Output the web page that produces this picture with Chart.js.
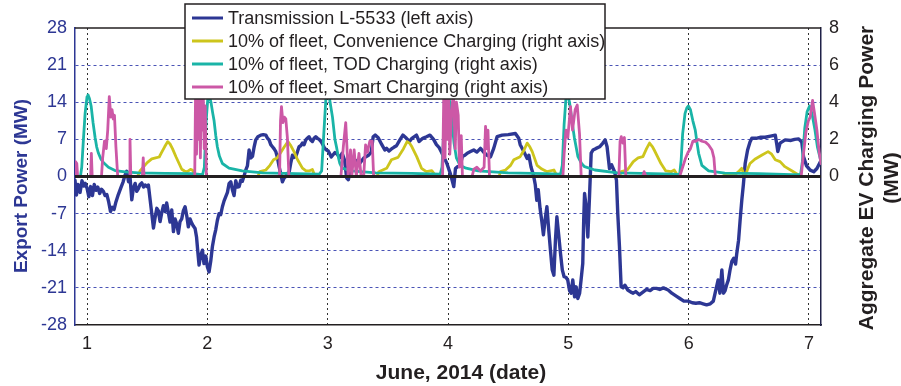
<!DOCTYPE html>
<html>
<head>
<meta charset="utf-8">
<script src="https://cdn.jsdelivr.net/npm/chart.js@4.4.1/dist/chart.umd.min.js"></script>
<style>
  html, body { margin: 0; padding: 0; background: #fff; }
  canvas { display: block; }
</style>
</head>
<body>
<canvas id="chart" width="901" height="386"></canvas>
<script>
// axis ticks
const dayTicks = [1, 2, 3, 4, 5, 6, 7];
const mwTicks = [-28, -21, -14, -7, 0, 7, 14, 21, 28];
const evTicks = [0, 2, 4, 6, 8];

// Transmission L-5533 export power, MW (left axis)
const transmissionDay = [
  0.900, 0.912, 0.925, 0.942, 0.958, 0.972, 0.985, 1.000, 1.015, 1.030, 1.045, 1.060, 1.075, 1.090, 1.105, 1.120,
  1.136, 1.150, 1.165, 1.180, 1.195, 1.210, 1.225, 1.240, 1.260, 1.280, 1.300, 1.315, 1.330, 1.345, 1.358, 1.372,
  1.385, 1.400, 1.413, 1.427, 1.441, 1.455, 1.470, 1.483, 1.497, 1.510, 1.525, 1.538, 1.552, 1.565, 1.580, 1.593,
  1.607, 1.621, 1.635, 1.649, 1.662, 1.676, 1.690, 1.704, 1.718, 1.732, 1.746, 1.759, 1.773, 1.787, 1.800, 1.815,
  1.830, 1.842, 1.856, 1.870, 1.885, 1.898, 1.910, 1.920, 1.931, 1.945, 1.959, 1.972, 1.987, 2.000, 2.014, 2.028,
  2.042, 2.056, 2.070, 2.083, 2.097, 2.111, 2.125, 2.139, 2.153, 2.167, 2.181, 2.195, 2.208, 2.222, 2.236, 2.250,
  2.264, 2.278, 2.291, 2.305, 2.319, 2.333, 2.347, 2.361, 2.375, 2.389, 2.402, 2.420, 2.444, 2.465, 2.486, 2.500,
  2.513, 2.527, 2.541, 2.555, 2.569, 2.583, 2.596, 2.610, 2.624, 2.638, 2.652, 2.665, 2.679, 2.693, 2.707, 2.721,
  2.735, 2.749, 2.762, 2.776, 2.790, 2.804, 2.818, 2.831, 2.845, 2.859, 2.873, 2.887, 2.901, 2.915, 2.929, 2.945,
  2.960, 2.975, 2.990, 3.005, 3.017, 3.030, 3.045, 3.060, 3.080, 3.100, 3.120, 3.140, 3.158, 3.172, 3.190, 3.210,
  3.240, 3.267, 3.300, 3.340, 3.362, 3.378, 3.395, 3.420, 3.450, 3.475, 3.490, 3.510, 3.530, 3.550, 3.572, 3.600,
  3.625, 3.655, 3.680, 3.700, 3.738, 3.760, 3.790, 3.821, 3.850, 3.880, 3.904, 3.925, 3.945, 3.965, 3.990, 4.020,
  4.048, 4.062, 4.076, 4.100, 4.120, 4.140, 4.160, 4.187, 4.214, 4.240, 4.270, 4.300, 4.325, 4.353, 4.380, 4.408,
  4.450, 4.500, 4.560, 4.588, 4.600, 4.630, 4.658, 4.672, 4.690, 4.710, 4.725, 4.738, 4.750, 4.765, 4.780, 4.793,
  4.808, 4.822, 4.837, 4.852, 4.866, 4.880, 4.893, 4.905, 4.920, 4.935, 4.950, 4.965, 4.980, 4.995, 5.010, 5.023,
  5.037, 5.052, 5.065, 5.079, 5.094, 5.106, 5.120, 5.128, 5.135, 5.148, 5.162, 5.176, 5.190, 5.205, 5.231, 5.260,
  5.287, 5.306, 5.322, 5.342, 5.360, 5.384, 5.400, 5.411, 5.425, 5.439, 5.455, 5.470, 5.494, 5.520, 5.539, 5.560,
  5.590, 5.620, 5.650, 5.680, 5.705, 5.733, 5.760, 5.790, 5.830, 5.860, 5.900, 5.927, 5.960, 5.996, 6.030, 6.060,
  6.090, 6.120, 6.149, 6.180, 6.205, 6.220, 6.232, 6.245, 6.260, 6.276, 6.290, 6.303, 6.315, 6.330, 6.345, 6.359,
  6.375, 6.390, 6.400, 6.415, 6.428, 6.442, 6.455, 6.470, 6.490, 6.510, 6.525, 6.560, 6.600, 6.636, 6.680, 6.720,
  6.733, 6.741, 6.760, 6.802, 6.850, 6.880, 6.914, 6.940, 6.955, 6.980, 7.010, 7.040, 7.066, 7.100
];
const transmissionMW = [
  -0.7, -3.5, -1.5, -3.0, -0.8, -1.8, -1.3, -2.2, -3.8, -1.9, -3.6, -1.5, -2.6, -2.0, -3.2, -2.4,
  -2.8, -3.6, -3.4, -4.8, -6.6, -5.8, -6.2, -4.8, -3.4, -2.2, -1.0, 0.2, 1.0, -1.0, -0.3, -4.4,
  -2.2, -1.3, -2.8, -2.3, -1.5, -1.2, -2.0, -1.6, -1.9, -1.6, -4.5, -7.0, -9.7, -7.8, -6.0, -6.5,
  -8.5, -6.8, -5.5, -6.6, -5.0, -6.8, -8.6, -6.3, -10.4, -8.0, -9.0, -10.7, -8.5, -8.0, -6.5, -5.7,
  -7.6, -9.5, -8.0, -8.8, -9.4, -9.8, -11.4, -14.0, -16.7, -14.8, -13.9, -16.4, -15.0, -17.0, -18.0, -16.0,
  -13.2, -11.4, -10.0, -8.3, -7.0, -7.2, -5.7, -4.6, -3.8, -3.0, -1.3, -1.0, -2.5, -3.6, -0.8, -2.0,
  -1.9, -0.7, -0.9, 0.1, 1.2, 2.0, 5.0, 3.5, 3.8, 5.6, 6.9, 7.5, 7.8, 7.9, 7.8, 7.2,
  6.9, 6.0, 5.6, 5.2, 4.7, 3.5, 1.9, 0.5, -1.0, -0.3, 0.0, 0.6, 0.7, 2.5, 4.0, 3.6,
  3.8, 4.7, 5.6, 5.8, 6.3, 6.0, 6.9, 7.2, 7.5, 6.9, 6.6, 7.2, 7.5, 7.2, 7.0, 6.6,
  6.0, 5.3, 5.0, 4.8, 4.3, 3.7, 4.1, 4.5, 4.2, 3.5, 4.4, 3.1, -0.3, -0.6, 1.5, 2.5,
  3.0, 2.5, 3.5, 4.0, 4.6, 7.5, 7.8, 7.3, 6.0, 5.0, 5.3, 4.8, 5.2, 5.5, 5.8, 6.9,
  7.8, 7.2, 6.6, 7.2, 7.8, 6.6, 7.2, 7.5, 7.8, 7.0, 6.0, 5.5, 4.6, 3.7, 2.5, 0.5,
  -1.9, 1.5, 1.8, 2.0, 3.8, 4.0, 4.4, 4.7, 5.0, 4.6, 5.3, 4.5, 4.0, 3.7, 5.3, 7.5,
  7.8, 7.9, 8.1, 7.2, 6.0, 4.7, 3.4, 4.0, 1.8, 0.3, -1.5, -4.5, -2.5, -6.0, -8.5, -11.0,
  -8.0, -5.7, -10.0, -14.0, -17.6, -18.6, -12.0, -7.6, -11.0, -14.5, -17.6, -18.9, -19.0, -19.5, -21.5, -22.0,
  -19.5, -22.7, -20.8, -23.0, -22.0, -19.5, -16.4, -8.0, -3.2, -5.7, -11.4, -3.8, 4.4, 5.0, 5.3, 5.6,
  6.3, 6.9, 5.6, 1.5, 2.2, 0.9, -0.7, -7.0, -13.2, -20.8, -21.0, -20.5, -21.4, -21.8, -22.0, -21.7,
  -22.3, -21.8, -21.3, -21.5, -21.1, -21.1, -21.3, -21.0, -21.4, -22.0, -22.6, -23.0, -23.5, -23.5, -23.8, -23.9,
  -23.8, -24.0, -24.2, -24.0, -23.5, -22.0, -20.8, -19.5, -22.0, -17.6, -22.0, -21.5, -20.5, -19.5, -17.5, -16.0,
  -15.4, -16.5, -14.5, -12.0, -8.2, -4.4, -1.5, 2.5, 5.0, 6.5, 7.2, 7.2, 7.4, 7.4, 7.6, 7.8,
  6.0, 4.7, 6.3, 6.9, 6.8, 7.0, 7.1, 6.5, 3.7, 2.0, 1.2, 0.9, 1.5, 3.0
];

// 10% of fleet, convenience charging, MW (right axis)
const convenienceDay = [
  0.900, 1.420, 1.440, 1.460, 1.480, 1.500, 1.538, 1.570, 1.600, 1.620, 1.645, 1.670, 1.690, 1.710, 1.740, 1.765,
  1.787, 1.810, 1.830, 1.860, 1.875, 1.898, 1.920, 2.420, 2.436, 2.486, 2.520, 2.550, 2.580, 2.610, 2.640, 2.670,
  2.690, 2.720, 2.750, 2.790, 2.820, 2.845, 2.873, 2.890, 2.910, 3.410, 3.425, 3.490, 3.530, 3.585, 3.630, 3.660,
  3.680, 3.700, 3.740, 3.780, 3.820, 3.865, 3.890, 3.905, 4.425, 4.436, 4.478, 4.520, 4.547, 4.600, 4.630, 4.658,
  4.680, 4.700, 4.740, 4.780, 4.824, 4.880, 4.900, 4.915, 5.425, 5.440, 5.490, 5.540, 5.580, 5.620, 5.650, 5.675,
  5.700, 5.716, 5.770, 5.810, 5.855, 5.880, 5.905, 5.925, 6.280, 6.300, 6.387, 6.420, 6.440, 6.460, 6.470, 6.490,
  6.510, 6.550, 6.610, 6.660, 6.690, 6.720, 6.760, 6.800, 6.860, 6.910, 6.940, 7.100
];
const convenienceMW = [
  0.0, 0.0, 0.3, 0.45, 0.6, 0.75, 0.95, 1.0, 1.05, 1.3, 1.6, 1.88, 1.75, 1.5, 1.05, 0.7,
  0.39, 0.3, 0.25, 0.38, 0.35, 0.1, 0.0, 0.0, 0.26, 0.35, 0.6, 0.9, 1.0, 1.3, 1.6, 1.88,
  1.7, 1.34, 0.9, 0.45, 0.3, 0.3, 0.38, 0.1, 0.0, 0.0, 0.26, 0.44, 0.9, 1.03, 1.5, 1.88,
  1.8, 1.6, 1.07, 0.44, 0.26, 0.32, 0.1, 0.0, 0.0, 0.26, 0.35, 0.6, 0.9, 1.07, 1.4, 1.8,
  1.6, 1.34, 0.6, 0.4, 0.26, 0.35, 0.1, 0.0, 0.0, 0.26, 0.35, 0.8, 1.0, 1.07, 1.5, 1.8,
  1.6, 1.4, 0.7, 0.3, 0.26, 0.35, 0.1, 0.0, 0.0, 0.08, 0.1, 0.3, 0.44, 0.1, 0.0, 0.4,
  0.7, 0.93, 1.16, 1.34, 1.2, 0.9, 0.8, 0.53, 0.3, 0.1, 0.0, 0.0
];

// 10% of fleet, time-of-day charging, MW (right axis)
const todDay = [
  0.900, 0.945, 0.956, 0.970, 0.984, 1.000, 1.008, 1.020, 1.034, 1.050, 1.067, 1.080, 1.095, 1.115, 1.136, 1.178,
  1.233, 1.316, 1.427, 1.649, 1.870, 1.960, 1.975, 1.990, 2.005, 2.015, 2.030, 2.045, 2.056, 2.070, 2.083, 2.100,
  2.125, 2.180, 2.290, 2.460, 2.735, 2.930, 2.950, 2.965, 2.985, 3.000, 3.015, 3.040, 3.060, 3.073, 3.090, 3.101,
  3.120, 3.200, 3.400, 3.700, 3.935, 3.950, 3.965, 3.980, 3.995, 4.010, 4.030, 4.050, 4.070, 4.100, 4.150, 4.250,
  4.500, 4.800, 4.935, 4.950, 4.965, 4.980, 4.995, 5.010, 5.030, 5.050, 5.080, 5.110, 5.135, 5.220, 5.410, 5.700,
  5.880, 5.925, 5.938, 5.950, 5.970, 5.985, 5.998, 6.015, 6.035, 6.055, 6.070, 6.083, 6.110, 6.166, 6.300, 6.580,
  6.860, 6.930, 6.945, 6.965, 6.985, 7.005, 7.025, 7.050, 7.070, 7.100
];
const todMW = [
  0.0, 0.0, 0.5, 2.0, 3.4, 4.3, 4.4, 4.2, 3.8, 2.9, 2.1, 1.6, 1.25, 0.95, 0.75, 0.5,
  0.32, 0.25, 0.2, 0.17, 0.15, 0.1, 0.5, 3.0, 4.3, 4.4, 4.0, 3.4, 3.0, 2.2, 1.6, 1.1,
  0.7, 0.45, 0.3, 0.2, 0.15, 0.12, 0.3, 2.0, 4.2, 4.4, 4.2, 3.2, 2.0, 1.6, 1.0, 0.7,
  0.45, 0.3, 0.2, 0.17, 0.12, 0.5, 2.5, 4.2, 4.4, 4.2, 3.2, 1.8, 1.0, 0.6, 0.45, 0.3,
  0.2, 0.15, 0.12, 0.6, 2.8, 4.2, 4.4, 4.0, 3.0, 2.1, 1.07, 0.7, 0.53, 0.35, 0.2, 0.15,
  0.13, 0.1, 0.9, 2.3, 3.4, 3.7, 3.8, 3.6, 3.0, 2.5, 1.8, 1.25, 0.6, 0.3, 0.18, 0.15,
  0.1, 0.1, 0.8, 2.6, 3.5, 3.8, 3.4, 2.5, 1.6, 0.8
];

// 10% of fleet, smart charging, MW (right axis)
const smartDay = [
  0.900, 0.905, 0.915, 0.922, 1.030, 1.036, 1.043, 1.120, 1.130, 1.145, 1.160, 1.172, 1.185, 1.198, 1.208, 1.218,
  1.228, 1.240, 1.255, 1.350, 1.357, 1.364, 1.460, 1.467, 1.474, 1.895, 1.902, 1.910, 1.918, 1.926, 1.934, 1.942,
  1.950, 1.958, 1.966, 1.974, 1.982, 1.992, 2.600, 2.608, 2.616, 2.628, 2.640, 2.652, 2.665, 2.678, 3.110, 3.130,
  3.150, 3.160, 3.170, 3.190, 3.200, 3.220, 3.238, 3.260, 3.278, 3.300, 3.315, 3.330, 3.350, 3.370, 3.382, 3.955,
  3.965, 3.975, 3.985, 3.995, 4.005, 4.015, 4.030, 4.045, 4.060, 4.070, 4.085, 4.095, 4.110, 4.120, 4.200, 4.215,
  4.240, 4.270, 4.300, 4.312, 4.322, 4.332, 4.345, 4.955, 4.965, 4.980, 4.996, 5.018, 5.035, 5.057, 5.074, 5.093,
  5.107, 5.420, 5.430, 5.440, 5.453, 5.466, 5.478, 5.620, 5.630, 5.645, 5.925, 5.950, 5.975, 5.995, 6.015, 6.035,
  6.060, 6.083, 6.110, 6.140, 6.166, 6.194, 6.210, 6.222, 6.935, 6.955, 6.975, 6.995, 7.010, 7.030, 7.044, 7.066,
  7.085, 7.100
];
const smartMW = [
  0.0, 0.8, 0.7, 0.0, 0.0, 1.25, 0.0, 0.0, 1.0, 1.9, 1.5, 2.5, 4.3, 3.2, 3.6, 3.1,
  3.3, 1.6, 0.0, 0.0, 2.0, 0.0, 0.0, 1.0, 0.0, 0.0, 4.5, 1.2, 4.6, 2.0, 4.2, 1.0,
  4.6, 2.5, 4.4, 1.5, 3.8, 0.0, 0.0, 3.0, 3.76, 2.9, 3.2, 3.1, 2.1, 0.0, 0.0, 1.6,
  2.9, 1.6, 0.0, 1.43, 0.0, 1.43, 0.0, 1.25, 0.0, 0.1, 1.7, 1.3, 1.9, 1.9, 0.0, 0.0,
  4.5, 1.0, 4.6, 2.0, 4.4, 1.2, 3.5, 4.6, 1.5, 4.0, 3.3, 0.5, 2.2, 0.0, 0.0, 0.4,
  0.5, 0.3, 0.5, 2.7, 1.5, 2.5, 0.0, 0.0, 1.2, 2.5, 2.1, 3.76, 2.5, 3.6, 3.85, 2.3,
  0.0, 0.0, 1.9, 2.15, 1.8, 2.1, 0.0, 0.0, 0.26, 0.0, 0.0, 0.5, 1.0, 1.3, 1.5, 1.9,
  1.9, 2.0, 1.9, 1.85, 1.7, 1.43, 1.0, 0.0, 0.0, 1.25, 2.4, 3.0, 3.2, 4.1, 3.5, 2.5,
  1.3, 0.7
];

// black reference line at zero
const zeroDay = [0.9, 7.1];
const zeroMW = [0, 0];

const FONT = "'Liberation Sans', Arial, Helvetica, sans-serif";
const NAVY = '#2d3794';
const INK = '#231f20';

const toPoints = (xs, ys) => xs.map((x, i) => ({ x, y: ys[i] }));

// top edge of the plot box, axis titles and the boxed legend
const decorations = {
  id: 'decorations',
  afterDatasetsDraw(chart) {
    const { ctx, chartArea: a } = chart;
    ctx.save();
    ctx.strokeStyle = INK;
    ctx.lineWidth = 1.5;
    ctx.beginPath();
    ctx.moveTo(a.left, a.top);
    ctx.lineTo(a.right, a.top);
    ctx.stroke();
    ctx.restore();
  },
  afterDraw(chart) {
    const { ctx } = chart;
    ctx.save();
    ctx.textAlign = 'center';
    ctx.textBaseline = 'middle';

    // left title
    ctx.save();
    ctx.font = `bold 19px ${FONT}`;
    ctx.fillStyle = NAVY;
    ctx.translate(22, 186);
    ctx.rotate(-Math.PI / 2);
    ctx.fillText('Export Power (MW)', 0, 0);
    ctx.restore();

    // right title, two lines, read bottom to top
    ctx.save();
    ctx.font = `bold 21px ${FONT}`;
    ctx.fillStyle = INK;
    ctx.translate(867, 178);
    ctx.rotate(-Math.PI / 2);
    ctx.fillText('Aggregate EV Charging Power', 0, 0);
    ctx.fillText('(MW)', 0, 25);
    ctx.restore();

    // x title
    ctx.font = `bold 21px ${FONT}`;
    ctx.fillStyle = INK;
    ctx.fillText('June, 2014 (date)', 461, 373);

    // legend
    const items = chart.data.datasets.filter(ds => ds.label);
    const box = { x: 185, y: 4, w: 420, h: 95 };
    ctx.fillStyle = '#fff';
    ctx.fillRect(box.x, box.y, box.w, box.h);
    ctx.strokeStyle = INK;
    ctx.lineWidth = 1.5;
    ctx.strokeRect(box.x, box.y, box.w, box.h);
    ctx.font = `18px ${FONT}`;
    ctx.textAlign = 'left';
    items.forEach((ds, i) => {
      const y = 18 + i * 23;
      ctx.strokeStyle = ds.borderColor;
      ctx.lineWidth = 3;
      ctx.beginPath();
      ctx.moveTo(192, y);
      ctx.lineTo(223, y);
      ctx.stroke();
      ctx.fillStyle = INK;
      ctx.fillText(ds.label, 228, y + 1);
    });
    ctx.restore();
  }
};

const lineStyle = {
  pointRadius: 0,
  borderWidth: 2.8,
  tension: 0,
  borderJoinStyle: 'round',
  borderCapStyle: 'round',
  fill: false,
};

const tickFont = { family: FONT, size: 18 };

new Chart(document.getElementById('chart'), {
  type: 'line',
  data: {
    datasets: [
      {
        ...lineStyle,
        data: toPoints(zeroDay, zeroMW),
        yAxisID: 'ev',
        borderColor: INK,
        borderWidth: 3.2,
        borderCapStyle: 'butt',
        order: 0,
      },
      {
        ...lineStyle,
        label: 'Transmission L-5533 (left axis)',
        data: toPoints(transmissionDay, transmissionMW),
        yAxisID: 'mw',
        borderColor: NAVY,
        borderWidth: 3.4,
        order: 4,
      },
      {
        ...lineStyle,
        label: '10% of fleet, Convenience Charging (right axis)',
        data: toPoints(convenienceDay, convenienceMW),
        yAxisID: 'ev',
        borderColor: '#cdc51c',
        order: 3,
      },
      {
        ...lineStyle,
        label: '10% of fleet, TOD Charging (right axis)',
        data: toPoints(todDay, todMW),
        yAxisID: 'ev',
        borderColor: '#1ab4a7',
        order: 2,
      },
      {
        ...lineStyle,
        label: '10% of fleet, Smart Charging (right axis)',
        data: toPoints(smartDay, smartMW),
        yAxisID: 'ev',
        borderColor: '#cc58a6',
        order: 1,
      },
    ],
  },
  options: {
    responsive: false,
    animation: false,
    devicePixelRatio: 1,
    layout: { padding: { top: 28, left: 0, right: 0, bottom: 0 } },
    plugins: {
      legend: { display: false },
      tooltip: { enabled: false },
    },
    scales: {
      x: {
        type: 'linear',
        min: 0.9,
        max: 7.1,
        afterBuildTicks: s => { s.ticks = dayTicks.map(v => ({ value: v })); },
        afterFit: s => { s.height = 61; },
        grid: { color: '#333', lineWidth: 1, drawTicks: false },
        border: { color: INK, width: 1.5, dash: [2, 3] },
        ticks: { color: INK, font: tickFont, padding: 8, maxRotation: 0 },
      },
      mw: {
        position: 'left',
        min: -28,
        max: 28,
        afterBuildTicks: s => { s.ticks = mwTicks.map(v => ({ value: v })); },
        afterFit: s => { s.width = 75; },
        grid: {
          color: c => (c.tick && c.tick.value !== 0 && Math.abs(c.tick.value) < 28) ? '#4a54b6' : 'rgba(0,0,0,0)',
          lineWidth: 1,
          drawTicks: false,
        },
        border: { color: NAVY, width: 1.5, dash: [3, 3] },
        ticks: { color: NAVY, font: tickFont, padding: 8 },
      },
      ev: {
        position: 'right',
        min: -8,
        max: 8,
        afterBuildTicks: s => { s.ticks = evTicks.map(v => ({ value: v })); },
        afterFit: s => { s.width = 80; },
        grid: { display: false, drawTicks: false },
        border: { color: '#1f2148', width: 1.5 },
        ticks: { color: INK, font: tickFont, padding: 8 },
      },
    },
  },
  plugins: [decorations],
});
</script>
</body>
</html>
